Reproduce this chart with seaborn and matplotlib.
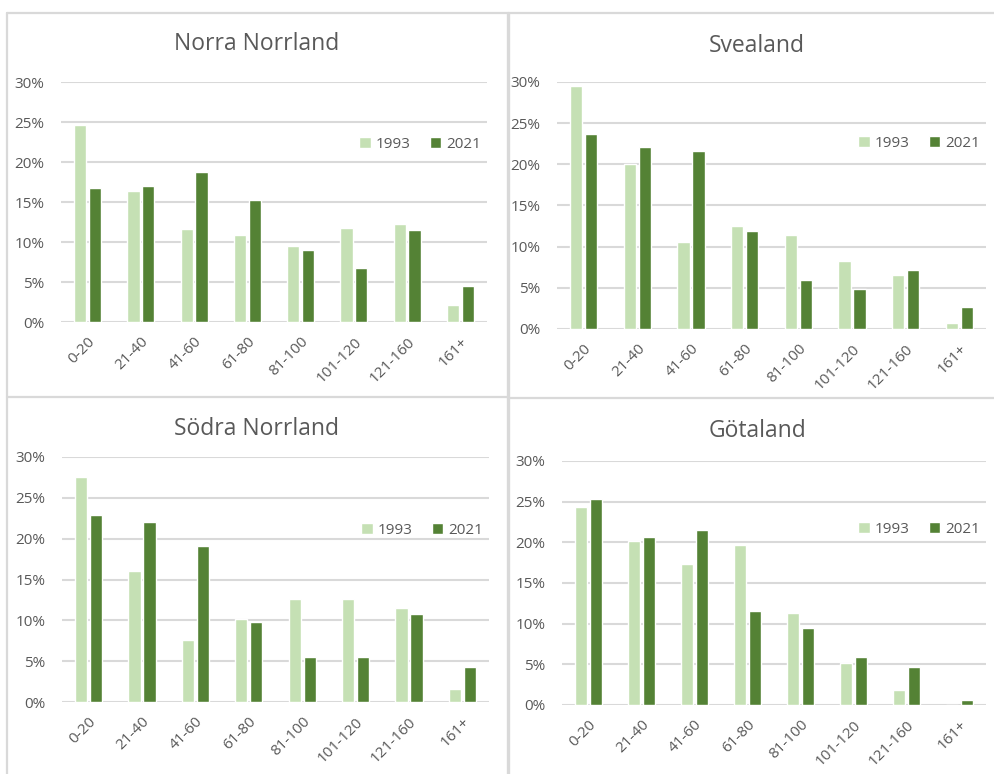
import matplotlib
matplotlib.use("Agg")
import matplotlib.pyplot as plt
from matplotlib.lines import Line2D
from matplotlib.ticker import PercentFormatter, MultipleLocator
import seaborn as sns
import pandas as pd

# ---- data ----
categories = ["0-20", "21-40", "41-60", "61-80", "81-100", "101-120", "121-160", "161+"]
years = ["1993", "2021"]

norra_norrland_1993 = [24.6, 16.4, 11.6, 10.9, 9.5, 11.8, 12.3, 2.1]
norra_norrland_2021 = [16.7, 17.0, 18.7, 15.2, 9.0, 6.7, 11.5, 4.5]

svealand_1993 = [29.5, 20.1, 10.6, 12.5, 11.4, 8.3, 6.6, 0.7]
svealand_2021 = [23.7, 22.1, 21.6, 11.9, 5.9, 4.8, 7.2, 2.7]

sodra_norrland_1993 = [27.5, 16.1, 7.6, 10.2, 12.6, 12.6, 11.5, 1.6]
sodra_norrland_2021 = [22.9, 22.1, 19.1, 9.8, 5.5, 5.5, 10.8, 4.3]

gotaland_1993 = [24.3, 20.2, 17.3, 19.7, 11.3, 5.2, 1.8, 0.0]
gotaland_2021 = [25.3, 20.7, 21.5, 11.6, 9.5, 5.9, 4.7, 0.6]

regions = ["Norra Norrland", "Svealand", "Södra Norrland", "Götaland"]
region_values = {
    "Norra Norrland": (norra_norrland_1993, norra_norrland_2021),
    "Svealand": (svealand_1993, svealand_2021),
    "Södra Norrland": (sodra_norrland_1993, sodra_norrland_2021),
    "Götaland": (gotaland_1993, gotaland_2021),
}

# ---- style ----
sns.set_theme(style="white")
plt.rcParams["font.family"] = ["Open Sans", "DejaVu Sans"]
TEXT = "#595959"
GRID = "#D9D9D9"
palette = {"1993": "#C5E0B4", "2021": "#548235"}

W, H = 994, 774
fig = plt.figure(figsize=(W / 100, H / 100), dpi=100)
fig.patch.set_facecolor("white")

# plot areas in pixels: (x0, x1, ytop, ybottom), title centre (x, y), legend y (axes fraction)
layout = {
    "Norra Norrland": ((61, 487, 82, 322), (257, 44), 0.74),
    "Svealand": ((557, 986, 82, 329), (757, 46), 0.753),
    "Södra Norrland": ((62, 489, 457, 702), (256, 429), 0.70),
    "Götaland": ((562, 986, 461, 705), (757, 431), 0.72),
}

for region in regions:
    (x0, x1, yt, yb), (tx, ty), leg_y = layout[region]
    ax = fig.add_axes([x0 / W, 1 - yb / H, (x1 - x0) / W, (yb - yt) / H])
    v93, v21 = region_values[region]
    df = pd.DataFrame({
        "cat": categories * 2,
        "year": ["1993"] * len(categories) + ["2021"] * len(categories),
        "value": [v / 100 for v in v93] + [v / 100 for v in v21],
    })
    sns.barplot(data=df, x="cat", y="value", hue="year", order=categories,
                hue_order=years, palette=palette, width=0.56, gap=0.18,
                saturation=1, ax=ax, legend=True, zorder=3)
    ax.set_ylim(0, 0.30)
    ax.set_xlim(-0.5, len(categories) - 0.5)
    ax.yaxis.set_major_locator(MultipleLocator(0.05))
    ax.yaxis.set_major_formatter(PercentFormatter(1.0, decimals=0))
    ax.grid(axis="y", color=GRID, linewidth=1.5, zorder=0)
    ax.set_axisbelow(True)
    for s in ax.spines.values():
        s.set_visible(False)
    ax.set_xlabel("")
    ax.set_ylabel("")
    ax.tick_params(axis="both", length=0, colors=TEXT, labelsize=11)
    ax.tick_params(axis="y", pad=12)
    ax.tick_params(axis="x", pad=9)
    ax.set_xticks(range(len(categories)))
    ax.set_xticklabels(categories, rotation=45, ha="right", rotation_mode="anchor")
    ax.set_facecolor("none")

    handles, labels = ax.get_legend_handles_labels()
    ax.legend(handles, labels, loc="center right", bbox_to_anchor=(1.0, leg_y),
              ncol=2, frameon=False, fontsize=11, handlelength=0.75,
              handleheight=0.75, handletextpad=0.3, columnspacing=1.3,
              borderaxespad=0, labelcolor=TEXT)

    fig.text(tx / W, 1 - ty / H, region, ha="center", va="center",
             fontsize=16.5, color=TEXT)

# panel frames
def fline(xa, ya, xb, yb, lw=1.6):
    fig.add_artist(Line2D([xa / W, xb / W], [1 - ya / H, 1 - yb / H],
                          transform=fig.transFigure, color=GRID, linewidth=lw))

fline(6.5, 13, 994, 13)
fline(6.5, 13, 6.5, 774)
fline(507.5, 13, 507.5, 774, lw=2.4)
fline(6.5, 396.5, 507.5, 396.5)
fline(507.5, 398.5, 994, 398.5)

fig.savefig("out.png", dpi=100, facecolor="white")
